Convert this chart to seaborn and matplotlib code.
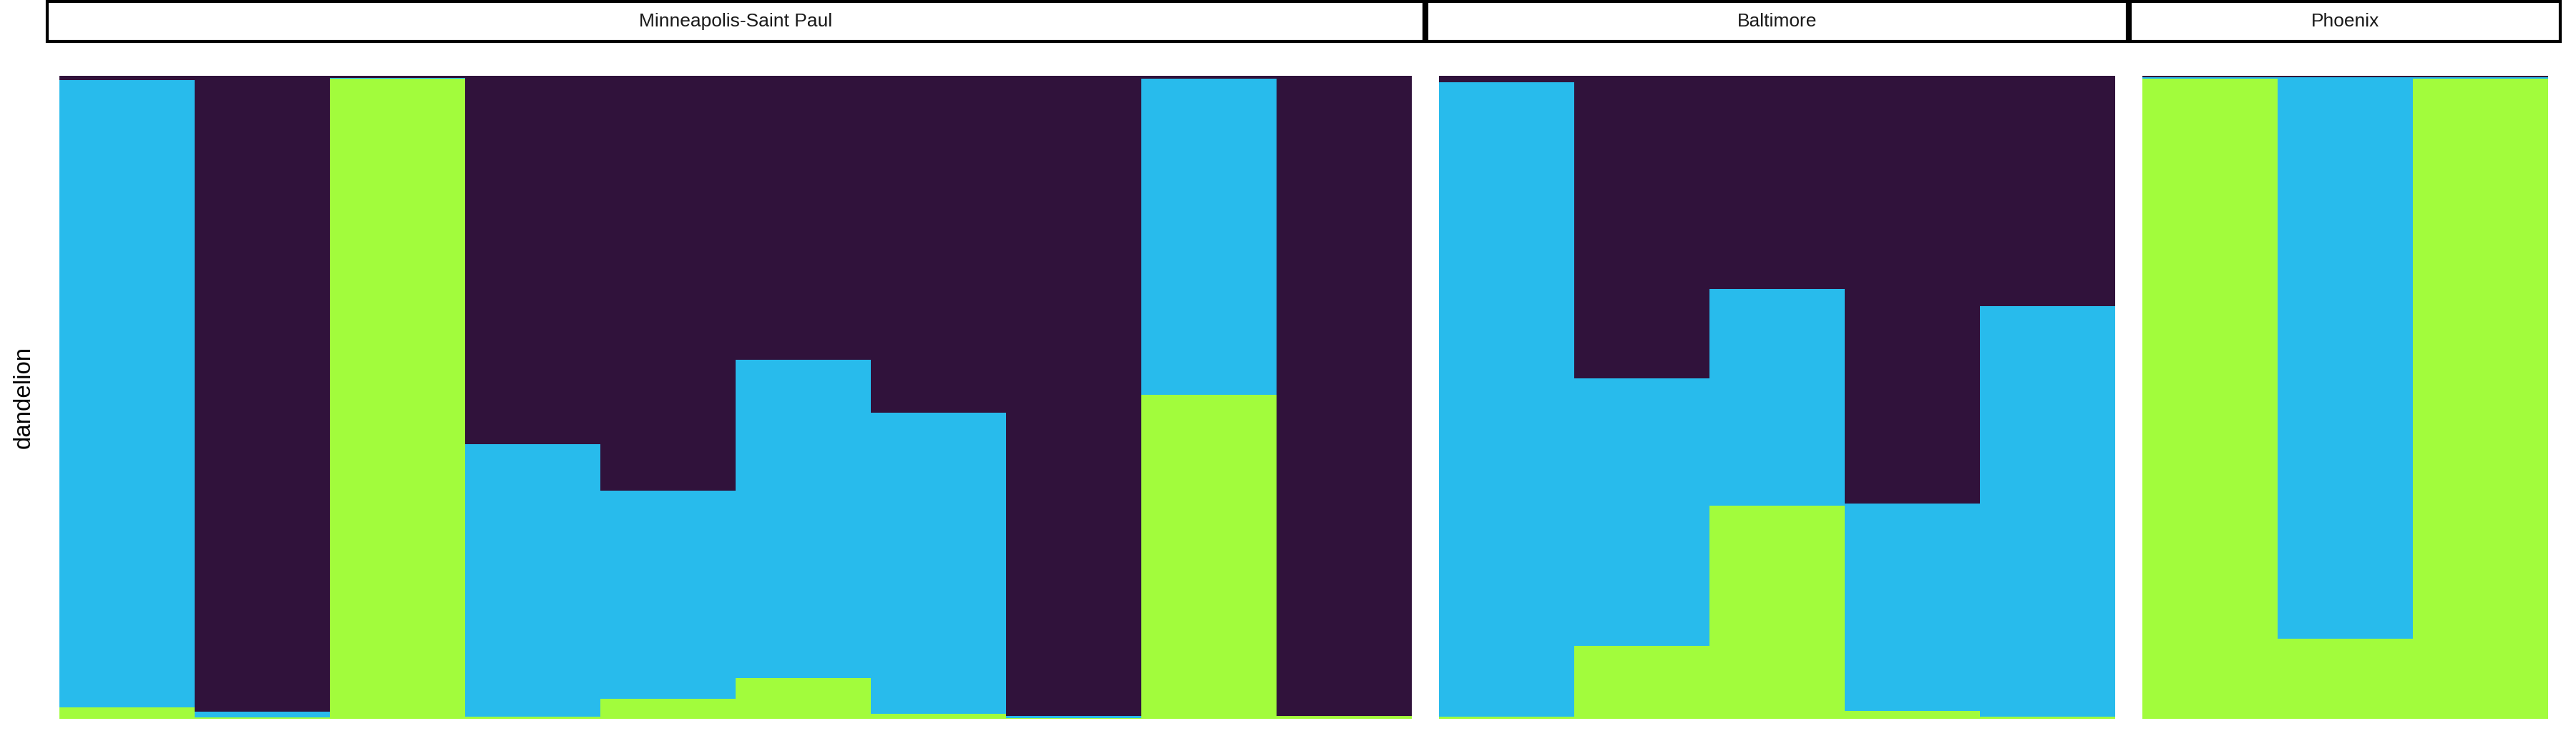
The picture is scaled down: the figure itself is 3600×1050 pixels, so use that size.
import numpy as np
import pandas as pd
import matplotlib
matplotlib.use("Agg")
import matplotlib.pyplot as plt
import seaborn as sns
from matplotlib.patches import Rectangle

# ---------------- data ----------------
cities = ["Minneapolis-Saint Paul", "Baltimore", "Phoenix"]
cluster_order = ["K1", "K2", "K3"]          # top -> bottom in the stack
cluster_colors = ["#30123B", "#28BBEC", "#A2FC3C"]

msp_k1 = [0.007, 0.989, 0.003, 0.573, 0.645, 0.442, 0.524, 0.995, 0.005, 0.995]
msp_k2 = [0.975, 0.009, 0.002, 0.424, 0.324, 0.495, 0.468, 0.004, 0.491, 0.000]
msp_k3 = [0.018, 0.002, 0.995, 0.003, 0.031, 0.063, 0.008, 0.001, 0.504, 0.005]

bal_k1 = [0.010, 0.471, 0.332, 0.665, 0.358]
bal_k2 = [0.987, 0.416, 0.336, 0.323, 0.639]
bal_k3 = [0.003, 0.113, 0.332, 0.012, 0.003]

phx_k1 = [0.002, 0.002, 0.002]
phx_k2 = [0.002, 0.873, 0.003]
phx_k3 = [0.996, 0.125, 0.995]

city_data = {
    "Minneapolis-Saint Paul": (msp_k1, msp_k2, msp_k3),
    "Baltimore": (bal_k1, bal_k2, bal_k3),
    "Phoenix": (phx_k1, phx_k2, phx_k3),
}

def long_frame(city):
    k1, k2, k3 = city_data[city]
    rows = []
    for name, vals in zip(cluster_order, (k1, k2, k3)):
        for i, v in enumerate(vals):
            rows.append({"sample": i, "cluster": name, "q": v})
    return pd.DataFrame(rows)

# ---------------- layout ----------------
W, H = 3600, 1050
fig = plt.figure(figsize=(W / 100, H / 100), dpi=100)
fig.patch.set_facecolor("white")

left0 = 82.7
bar_w = 189.0
gap = 38.2
y_top, y_bot = 106.0, 1005.0
strip_lw_px = 4.2
strip_top, strip_bot = strip_lw_px / 2, 60.0 - strip_lw_px / 2
strip_pad = 19.2 - strip_lw_px / 2

x = left0
for city in cities:
    df = long_frame(city)
    n = len(city_data[city][0])
    pw = n * bar_w
    ax = fig.add_axes([x / W, (H - y_bot) / H, pw / W, (y_bot - y_top) / H])
    sns.histplot(data=df, x="sample", weights="q", hue="cluster",
                 hue_order=cluster_order, palette=cluster_colors,
                 multiple="stack", discrete=True, shrink=1, alpha=1,
                 linewidth=0, legend=False, ax=ax)
    ax.set_xlim(-0.5, n - 0.5)
    ax.set_ylim(0, 1)
    ax.set_xticks([]); ax.set_yticks([])
    ax.set_xlabel(""); ax.set_ylabel("")
    for s in ax.spines.values():
        s.set_visible(False)
    ax.set_facecolor("white")

    # strip
    sx0 = x - strip_pad
    sx1 = x + pw + strip_pad
    rect = Rectangle((sx0 / W, (H - strip_bot) / H), (sx1 - sx0) / W,
                     (strip_bot - strip_top) / H, transform=fig.transFigure,
                     facecolor="white", edgecolor="black",
                     linewidth=strip_lw_px * 72 / 100)
    fig.add_artist(rect)
    fig.text((sx0 + sx1) / 2 / W, (H - 30.0) / H, city,
             ha="center", va="center", fontsize=19, family="Liberation Sans",
             color="#1a1a1a")
    x += pw + gap

fig.text(33 / W, (H - (y_top + y_bot) / 2) / H, "dandelion", rotation=90,
         ha="center", va="center", fontsize=23.8, family="Liberation Sans",
         color="black")

fig.savefig("out.png", dpi=100, facecolor="white")
